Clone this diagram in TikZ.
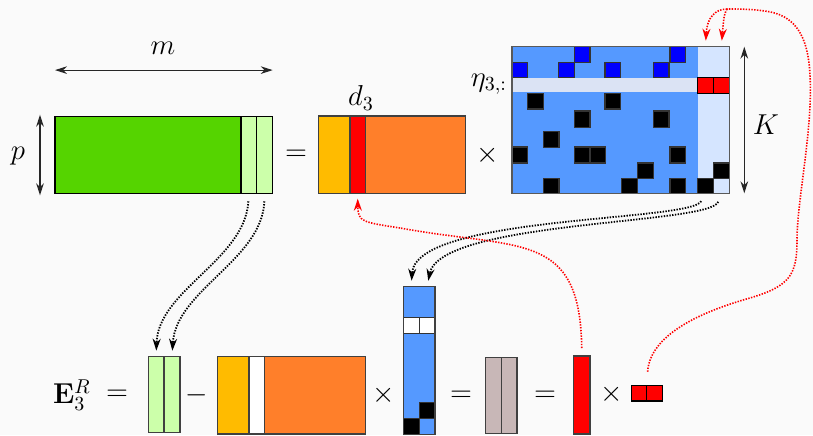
\documentclass[tikz,border=0pt]{standalone}
\usetikzlibrary{arrows.meta,fit}
\definecolor{bg}{HTML}{FAFAFA}
\definecolor{cgreen}{HTML}{55D400}
\definecolor{clgreen}{HTML}{CCFFAA}
\definecolor{cyellow}{HTML}{FFBB00}
\definecolor{cred}{HTML}{FF0000}
\definecolor{corange}{HTML}{FF7F2A}
\definecolor{cblue}{HTML}{5599FF}
\definecolor{cdblue}{HTML}{0000FF}
\definecolor{clblue}{HTML}{D5E5FF}
\definecolor{cband}{HTML}{DBE3F4}
\definecolor{cpink}{HTML}{C8B7B7}
\begin{document}
\begin{tikzpicture}[x=0.5pt,y=-0.5pt,
  box/.style={inner sep=0pt, outer sep=0pt, draw=black!75, line width=0.6pt},
  area/.style={inner sep=0pt, outer sep=0pt},
  cellbox/.style={draw=black!80, line width=0.55pt},
  lbl/.style={inner sep=0pt, font=\fontsize{14.4}{17}\selectfont},
  dim/.style={{Stealth[length=6pt,width=3.8pt]}-{Stealth[length=6pt,width=3.8pt]}, line width=0.6pt, black!85},
  flow/.style={-{Stealth[length=6pt,width=4pt]}, line width=0.9pt, dash pattern=on 0.7pt off 0.7pt, black},
  rdot/.style={line width=0.8pt, dash pattern=on 0.7pt off 0.7pt, red},
  rflow/.style={rdot, -{Stealth[length=6pt,width=4pt]}},
]
\useasboundingbox[fill=bg] (0,0) rectangle (813,435);

% ---------- top row ----------
\node[box, draw=black, fill=cgreen, fit={(55,116.7) (272.7,193.3)}] (G) {};
\node[box, draw=black, fill=clgreen, fit={(241,116.7) (256.7,193.3)}] (gc1) {};
\node[box, draw=black, fill=clgreen, fit={(256.7,116.7) (272.7,193.3)}] (gc2) {};

\node[lbl] (mlbl) at (163,48) {$m$};
\draw[dim] ([yshift=23.3pt]G.north west) -- ([yshift=23.3pt]G.north east);
\node[lbl] (plbl) at (18,156) {$p$};
\draw[dim] ([xshift=-7.5pt,yshift=1pt]G.north west) -- ([xshift=-7.5pt,yshift=-1pt]G.south west);

\node[lbl] (eq1) at (296,155) {$=$};

\node[box, fill=corange, fit={(318.3,116) (465.7,193.7)}] (O) {};
\node[box, fill=cyellow, fit={(318.3,116) (350,193.7)}] (oy) {};
\node[box, fill=cred, fit={(350,116) (365.3,193.7)}] (oc) {};
\node[lbl] (dlbl) at (361,98) {$d_3$};

\node[lbl] (times1) at (488,155) {$\times$};

\node[area, fill=cblue, fit={(512,46.7) (729.3,193.3)}] (H) {};
\fill[cband] (512,77.7) rectangle (697.7,92.3);
\node[area, fill=clblue, fit={(697.7,46.7) (713.3,193.3)}] (lc1) {};
\node[area, fill=clblue, fit={(713.3,46.7) (729.3,193.3)}] (lc2) {};
\foreach \a/\b/\c/\d in {574.3/46.7/590/62.3, 670/46.7/685.7/62.3,
  512.3/62.3/527.7/77.7, 558.7/62.3/574.3/77.7, 605/62.3/620.7/77.7, 653.3/62.3/669/77.7}
  \filldraw[cellbox, fill=cdblue] (\a,\b) rectangle (\c,\d);
\foreach \a/\b/\c/\d in {527.7/93.3/543.3/109, 605/93.3/620.7/109,
  574.3/111/590/127.7, 653.3/111/669/127.7, 543.3/131.7/559/147.7,
  512.3/147/527.7/163, 574.3/147/590/163, 590/147/605.3/163, 670/147/685.7/163,
  637.3/163/653.3/178.3, 713.3/163/729.3/178.3,
  543.3/178.3/559/193.3, 621.7/178.3/637.3/193.3, 670/178.3/685.7/193.3, 697.7/178.3/713.3/193.3}
  \filldraw[cellbox, fill=black] (\a,\b) rectangle (\c,\d);
\filldraw[cellbox, draw=black, fill=cred] (697.7,77.7) rectangle (713.3,93.3);
\filldraw[cellbox, draw=black, fill=cred] (713.3,77.7) rectangle (729.3,93.3);
\draw[black!65, line width=0.6pt] (H.north west) rectangle (H.south east);

\node[lbl] (etalbl) at (489,84) {$\eta_{3,:}$};
\draw[dim] ([xshift=7.5pt]H.north east) -- ([xshift=7.5pt]H.south east);
\node[lbl] (Klbl) at (766,125) {$K$};

% ---------- bottom row ----------
\node[lbl] (Elbl) at (72,395) {$\mathbf{E}_3^R$};
\node[lbl] (eq0) at (117,395) {$=$};
\node[box, fill=clgreen, fit={(148.3,356.7) (164,432.7)}] (bc1) {};
\node[box, fill=clgreen, fit={(164,356.7) (180,432.7)}] (bc2) {};
\node[lbl] (minus) at (197,395) {$-$};
\node[box, fill=corange, fit={(217.7,356.3) (365.3,434)}] (BO) {};
\node[box, fill=cyellow, fit={(217.7,356.3) (249,434)}] (by) {};
\node[box, fill=white, fit={(249,356.3) (264.3,434)}] (bw) {};
\node[lbl] (times2) at (384,395) {$\times$};

\node[box, fill=cblue, fit={(403.3,286.7) (435,434.3)}] (V) {};
\node[area, fit={(403.3,286.7) (419.3,434.3)}] (vcol1) {};
\node[area, fit={(419.3,286.7) (435,434.3)}] (vcol2) {};
\filldraw[cellbox, fill=white] (403.3,317.7) rectangle (419.3,333.3);
\filldraw[cellbox, fill=white] (419.3,317.7) rectangle (435,333.3);
\filldraw[cellbox, fill=black] (419.3,402.3) rectangle (435,418.3);
\filldraw[cellbox, fill=black] (403.3,418.3) rectangle (419.3,434.3);
\draw[black!75, line width=0.6pt] (V.north west) rectangle (V.south east);

\node[lbl] (eq2) at (461,396) {$=$};
\node[box, fill=cpink, fit={(485.7,357.7) (501.3,433.3)}] (pc1) {};
\node[box, fill=cpink, fit={(501.3,357.7) (517,433.3)}] (pc2) {};
\node[lbl] (eq3) at (545,396) {$=$};
\node[box, fill=cred, fit={(573.7,356) (590,434)}] (rc) {};
\node[lbl] (times3) at (612,394) {$\times$};
\node[box, draw=black, fill=cred, fit={(631.3,385.7) (646.7,401)}] (rr1) {};
\node[box, draw=black, fill=cred, fit={(646.7,385.7) (662.7,401)}] (rr2) {};

% ---------- connectors ----------
\draw[flow, shorten <=4pt, shorten >=3pt] (gc1.south) .. controls (245,260) and (158,290) .. (bc1.north);
\draw[flow, shorten <=4pt, shorten >=3pt] (gc2.south) .. controls (262,260) and (176,290) .. (bc2.north);
\draw[flow, shorten <=4.5pt, shorten >=3pt] (lc1.south) .. controls (690,222) and (415,215) .. (vcol1.north);
\draw[flow, shorten <=4.5pt, shorten >=3pt] (lc2.south) .. controls (710,225) and (440,220) .. (vcol2.north);

\draw[rdot, shorten <=4pt] (rc.north) .. controls (580,230) and (520,250) .. (400,228) coordinate (rmid);
\draw[rflow, shorten >=2.5pt] (rmid) .. controls (362,222) and (358,222) .. (oc.south);

\coordinate (rtop) at (727,9);
\draw[rdot, shorten <=7pt] (rr1.north east) .. controls (650,335) and (700,312) .. (750,298)
  .. controls (790,286) and (797,275) .. (797,240)
  .. controls (797,200) and (813,130) .. (810,75)
  .. controls (808,35) and (795,15) .. (765,11)
  .. controls (750,9) and (740,9) .. (rtop);
\draw[rflow, shorten >=3pt] (rtop) .. controls (715,9) and (707,18) .. (lc1.north);
\draw[rflow, shorten >=3pt] (rtop) .. controls (724,15) .. (lc2.north);
\end{tikzpicture}
\end{document}
